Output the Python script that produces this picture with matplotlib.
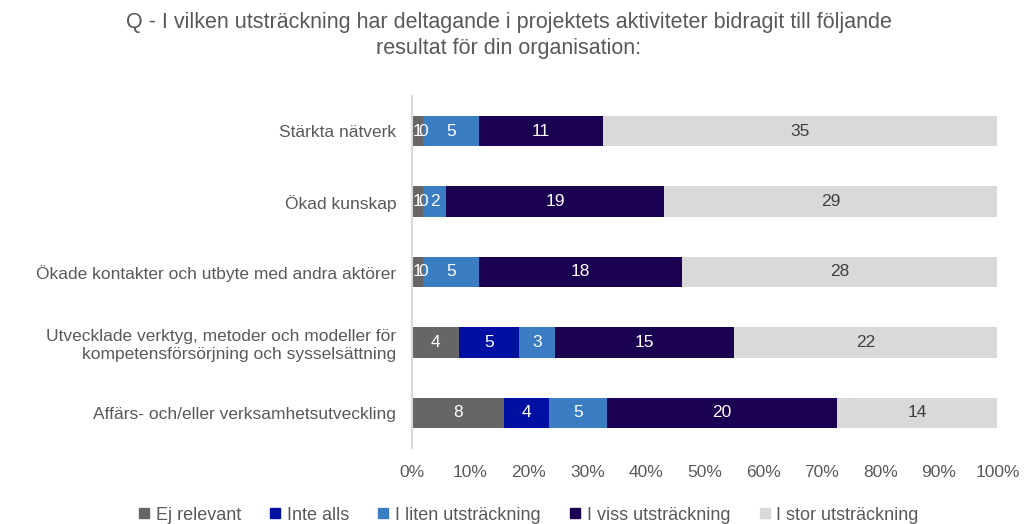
import numpy as np
import matplotlib.pyplot as plt
from matplotlib.lines import Line2D

plt.rcParams['font.family'] = ['Liberation Sans', 'DejaVu Sans']

# Data (counts per answer category)
categories = [
    'Stärkta nätverk',
    'Ökad kunskap',
    'Ökade kontakter och utbyte med andra aktörer',
    'Utvecklade verktyg, metoder och modeller för\nkompetensförsörjning och sysselsättning',
    'Affärs- och/eller verksamhetsutveckling',
]
series_names = ['Ej relevant', 'Inte alls', 'I liten utsträckning',
                'I viss utsträckning', 'I stor utsträckning']
ej_relevant = [1, 1, 1, 4, 8]
inte_alls = [0, 0, 0, 5, 4]
liten = [5, 2, 5, 3, 5]
viss = [11, 19, 18, 15, 20]
stor = [35, 29, 28, 22, 14]
tick_labels = ['0%', '10%', '20%', '30%', '40%', '50%', '60%', '70%', '80%', '90%', '100%']

colors = ['#666666', '#0010A0', '#3A7DC2', '#1A0050', '#D9D9D9']
text_colors = ['white', 'white', 'white', 'white', '#404040']
grey_text = '#595959'

values = np.array([ej_relevant, inte_alls, liten, viss, stor], dtype=float)
totals = values.sum(axis=0)
shares = values / totals

fig = plt.figure(figsize=(10.24, 5.24), dpi=100)
ax = fig.add_axes([0.402, 0.145, 0.572, 0.672])

y = np.arange(len(categories))
left = np.zeros(len(categories))
for i, name in enumerate(series_names):
    ax.barh(y, shares[i], left=left, height=0.43, color=colors[i], label=name)
    for j in range(len(categories)):
        cx = left[j] + shares[i][j] / 2
        ax.text(cx, y[j], f'{int(values[i][j])}', ha='center', va='center',
                fontsize=12.5, color=text_colors[i])
    left += shares[i]

ax.set_xlim(0, 1)
ax.set_ylim(len(categories) - 0.5, -0.5)
ax.set_yticks(y)
ax.set_yticklabels(categories, fontsize=12.5, color=grey_text, linespacing=1.3)
ax.set_xticks(np.linspace(0, 1, 11))
ax.set_xticklabels(tick_labels, fontsize=12.5, color=grey_text)
ax.tick_params(axis='both', length=0)
ax.tick_params(axis='y', pad=11)
ax.tick_params(axis='x', pad=12)
for s in ['top', 'right', 'bottom']:
    ax.spines[s].set_visible(False)
ax.spines['left'].set_color('#D9D9D9')
ax.spines['left'].set_linewidth(1.5)

fig.text(0.497, 0.958, 'Q - I vilken utsträckning har deltagande i projektets aktiviteter bidragit till följande',
         ha='center', va='center', fontsize=15.5, color=grey_text)
fig.text(0.497, 0.907, 'resultat för din organisation:',
         ha='center', va='center', fontsize=15.5, color=grey_text)

handles = [Line2D([0], [0], marker='s', linestyle='none', markersize=7,
                  markerfacecolor=c, markeredgecolor=c) for c in colors]
fig.legend(handles, series_names, loc='center', bbox_to_anchor=(0.51, 0.017),
           ncol=5, frameon=False, fontsize=13, handletextpad=-0.35,
           columnspacing=0.9, labelcolor=grey_text)

fig.savefig('out.png', dpi=100)
